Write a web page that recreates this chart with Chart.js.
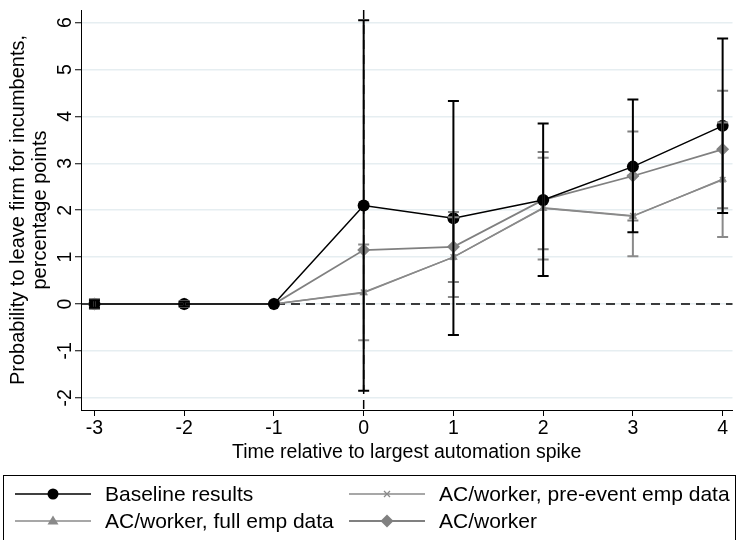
<!DOCTYPE html>
<html>
<head>
<meta charset="utf-8">
<script src="https://cdn.jsdelivr.net/npm/chart.js@4.4.1/dist/chart.umd.min.js"></script>
<style>
  body { margin: 0; background: #fff; }
  #wrap { position: relative; width: 739px; height: 540px; overflow: hidden; }
  #legend {
    position: absolute; left: 3px; top: 475px; width: 733px; height: 80px;
    border: 1.5px solid #000; box-sizing: border-box;
    font-family: "Liberation Sans", Arial, sans-serif; font-size: 21px; color: #000;
  }
  .item { position: absolute; display: flex; align-items: center; height: 24px; line-height: 24px; white-space: nowrap; }
  .item svg { margin-right: 12px; flex: none; }
</style>
</head>
<body>
<div id="wrap">
  <canvas id="chart" width="739" height="540"></canvas>
  <div id="legend">
    <div class="item" style="left:9px; top:6px;"><svg width="80" height="20"><line x1="2" y1="10" x2="78" y2="10" stroke="#000" stroke-width="1.5"/><circle cx="40" cy="10" r="5.5" fill="#000"/></svg>Baseline results</div>
    <div class="item" style="left:343px; top:6px;"><svg width="80" height="20"><line x1="2" y1="10" x2="78" y2="10" stroke="#8a8a8a" stroke-width="1.5"/><path d="M37 7 L43 13 M43 7 L37 13" stroke="#8a8a8a" stroke-width="1.3"/></svg>AC/worker, pre-event emp data</div>
    <div class="item" style="left:9px; top:33px;"><svg width="80" height="20"><line x1="2" y1="10" x2="78" y2="10" stroke="#8a8a8a" stroke-width="1.5"/><path d="M40 4.5 L45.5 13.5 L34.5 13.5 Z" fill="#8a8a8a"/></svg>AC/worker, full emp data</div>
    <div class="item" style="left:343px; top:33px;"><svg width="80" height="20"><line x1="2" y1="10" x2="78" y2="10" stroke="#808080" stroke-width="1.8"/><path d="M40 3.5 L46.5 10 L40 16.5 L33.5 10 Z" fill="#808080"/></svg>AC/worker</div>
  </div>
</div>
<script>
const xVals = [-3, -2, -1, 0, 1, 2, 3, 4];
const yTicks = [-2, -1, 0, 1, 2, 3, 4, 5, 6];

const baseline = [0, 0, 0, 2.10, 1.83, 2.22, 2.93, 3.80];
const baseLo = [-0.08, -0.05, 0, -1.85, -0.66, 0.60, 1.53, 1.94];
const baseHi = [0.08, 0.05, 0, 6.05, 4.33, 3.85, 4.36, 5.66];

const preEvent = [0, 0, 0, 0.25, 1.00, 2.05, 1.88, 2.65];
const preLo = [-0.1, -0.05, 0, -0.77, 0.15, 0.95, 1.02, 1.43];
const preHi = [0.1, 0.05, 0, 1.27, 1.85, 3.12, 2.74, 3.87];

const fullEmp = [0, 0, 0, 0.24, 1.00, 2.04, 1.87, 2.66];

const acWorker = [0, 0, 0, 1.15, 1.22, 2.22, 2.73, 3.30];
const acLo = [-0.1, -0.06, 0, null, 0.47, 1.17, 1.78, 2.04];
const acHi = [0.1, 0.06, 0, null, 1.96, 3.24, 3.68, 4.55];

const FONT = '"Liberation Sans", Arial, sans-serif';
const GRAY = '#8a8a8a';

const pts = arr => xVals.map((x, i) => ({ x: x, y: arr[i] }));

const ciSets = [
  { lo: preLo, hi: preHi, color: GRAY },
  { lo: acLo, hi: acHi, color: '#808080' },
  { lo: baseLo, hi: baseHi, color: '#000' }
];

// dashed reference lines at x = 0 and y = 0
const refLines = {
  id: 'refLines',
  beforeDatasetsDraw(chart) {
    const { ctx, chartArea: a, scales: { x, y } } = chart;
    ctx.save();
    ctx.strokeStyle = '#000';
    ctx.lineWidth = 1.5;
    ctx.setLineDash([9, 6]);
    const py = y.getPixelForValue(0);
    ctx.beginPath(); ctx.moveTo(a.left, py); ctx.lineTo(a.right, py); ctx.stroke();
    const px = x.getPixelForValue(0);
    ctx.beginPath(); ctx.moveTo(px, a.top); ctx.lineTo(px, a.bottom); ctx.stroke();
    ctx.restore();
  }
};

const errorBars = {
  id: 'errorBars',
  afterDatasetsDraw(chart) {
    const { ctx, scales: { x, y } } = chart;
    ctx.save();
    ctx.lineWidth = 2;
    ciSets.forEach(s => {
      ctx.strokeStyle = s.color;
      xVals.forEach((xv, i) => {
        if (s.lo[i] == null) return;
        const px = x.getPixelForValue(xv);
        const pl = y.getPixelForValue(s.lo[i]);
        const ph = y.getPixelForValue(s.hi[i]);
        if (Math.abs(pl - ph) < 2) return;
        ctx.beginPath();
        ctx.moveTo(px, pl); ctx.lineTo(px, ph);
        ctx.moveTo(px - 5.5, pl); ctx.lineTo(px + 5.5, pl);
        ctx.moveTo(px - 5.5, ph); ctx.lineTo(px + 5.5, ph);
        ctx.stroke();
      });
    });
    ctx.restore();
  }
};

// y tick labels are drawn rotated, like the original
const yLabels = {
  id: 'yLabels',
  afterDraw(chart) {
    const { ctx, scales: { y } } = chart;
    ctx.save();
    ctx.fillStyle = '#000';
    ctx.font = '19.5px ' + FONT;
    ctx.textAlign = 'center';
    ctx.textBaseline = 'middle';
    yTicks.forEach(v => {
      const py = y.getPixelForValue(v);
      ctx.save();
      ctx.translate(66, py);
      ctx.rotate(-Math.PI / 2);
      ctx.fillText(String(v), 0, 0);
      ctx.restore();
    });
    ctx.restore();
  }
};

new Chart(document.getElementById('chart'), {
  type: 'line',
  data: {
    datasets: [
      { label: 'Baseline results', data: pts(baseline), borderColor: '#000', backgroundColor: '#000',
        borderWidth: 1.5, pointStyle: 'circle', pointRadius: 6, pointBorderWidth: 0 },
      { label: 'AC/worker, pre-event emp data', data: pts(preEvent), borderColor: GRAY, backgroundColor: GRAY,
        borderWidth: 1.5, pointStyle: 'crossRot', pointRadius: 4, pointBorderWidth: 1.3 },
      { label: 'AC/worker, full emp data', data: pts(fullEmp), borderColor: GRAY, backgroundColor: GRAY,
        borderWidth: 1.5, pointStyle: 'triangle', pointRadius: 5, pointBorderWidth: 0 },
      { label: 'AC/worker', data: pts(acWorker), borderColor: '#808080', backgroundColor: '#808080',
        borderWidth: 1.8, pointStyle: 'rectRot', pointRadius: 6.5, pointBorderWidth: 0 }
    ]
  },
  options: {
    responsive: false,
    animation: false,
    layout: { padding: { top: 10, right: 1, bottom: 76, left: 0 } },
    plugins: { legend: { display: false }, tooltip: { enabled: false } },
    elements: { line: { tension: 0 } },
    scales: {
      x: {
        type: 'linear', min: -3.15, max: 4.11,
        afterBuildTicks: s => { s.ticks = xVals.map(v => ({ value: v })); },
        afterFit: s => { s.height = 54; },
        grid: { drawOnChartArea: false, tickLength: 6, tickColor: '#000', tickWidth: 1 },
        border: { color: '#000', width: 1 },
        ticks: { color: '#000', padding: 1, maxRotation: 0, font: { family: FONT, size: 19.5 } },
        title: { display: true, text: 'Time relative to largest automation spike', color: '#000',
          padding: { top: 0, bottom: 0 }, font: { family: FONT, size: 19.5, lineHeight: 1.2 } }
      },
      y: {
        type: 'linear', min: -2.26, max: 6.27,
        afterBuildTicks: s => { s.ticks = yTicks.map(v => ({ value: v })); },
        afterFit: s => { s.width = 81; },
        grid: { color: '#e6eef1', lineWidth: 1.5, tickLength: 6, tickColor: '#000', tickWidth: 1 },
        border: { color: '#000', width: 1 },
        ticks: { display: false },
        title: { display: true, text: ['Probability to leave firm for incumbents,', 'percentage points'],
          color: '#000', padding: { top: 7, bottom: 0 }, font: { family: FONT, size: 20, lineHeight: 1.1 } }
      }
    }
  },
  plugins: [refLines, errorBars, yLabels]
});
</script>
</body>
</html>
